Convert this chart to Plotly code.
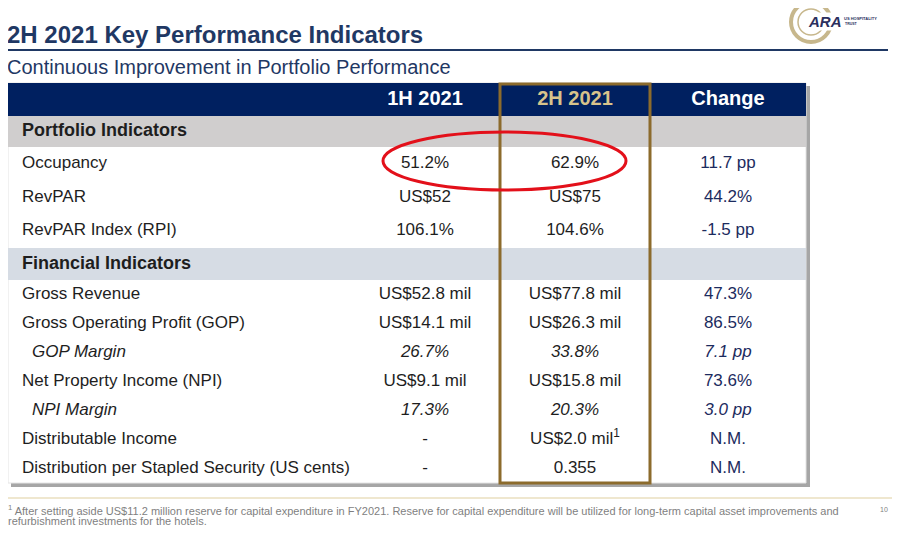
import plotly.graph_objects as go

# ---- data ----
col_headers = ["1H 2021", "2H 2021", "Change"]

portfolio_labels = ["Occupancy", "RevPAR", "RevPAR Index (RPI)"]
portfolio_1h = ["51.2%", "US$52", "106.1%"]
portfolio_2h = ["62.9%", "US$75", "104.6%"]
portfolio_chg = ["11.7 pp", "44.2%", "-1.5 pp"]

financial_labels = ["Gross Revenue", "Gross Operating Profit (GOP)", "GOP Margin",
                    "Net Property Income (NPI)", "NPI Margin", "Distributable Income",
                    "Distribution per Stapled Security (US cents)"]
financial_1h = ["US$52.8 mil", "US$14.1 mil", "26.7%", "US$9.1 mil", "17.3%", "-", "-"]
financial_2h = ["US$77.8 mil", "US$26.3 mil", "33.8%", "US$15.8 mil", "20.3%", "US$2.0 mil<sup>1</sup>", "0.355"]
financial_chg = ["47.3%", "86.5%", "7.1 pp", "73.6%", "3.0 pp", "N.M.", "N.M."]
financial_italic = [False, False, True, False, True, False, False]

sections = ["Portfolio Indicators", "Financial Indicators"]

title = "2H 2021 Key Performance Indicators"
subtitle = "Continuous Improvement in Portfolio Performance"
footnote_lines = [
    "<sup>1</sup> After setting aside US$11.2 million reserve for capital expenditure in FY2021. "
    "Reserve for capital expenditure will be utilized for long-term capital asset improvements and",
    "refurbishment investments for the hotels.",
]

# ---- layout / style ----
FONT = "Liberation Sans, Arial, sans-serif"
NAVY = "#002060"
TITLE_BLUE = "#1f3864"
GOLD_TXT = "#d8c38b"
GOLD_BOX = "#8c6b2c"
GRAY_ROW = "#d0cece"
BLUE_ROW = "#d6dce4"
TXT = "#1e1e1e"
CHG = "#1c2b5e"

# page is drawn on pixel-like axes; the browser adds an 8px body margin
OFF = 8
W, H = 900 - 2 * OFF, 534 - 2 * OFF

TABLE_L, TABLE_R, TABLE_T = 8, 806, 83
col_edges = [TABLE_L, 350, 500, 650, TABLE_R]
col_mid = [(a + b) / 2 for a, b in zip(col_edges[1:-1], col_edges[2:])]
LABEL_X, INDENT_X = 22, 32
BODY = 17


def paper_x(v):
    return (v - OFF) / W


def paper_y(v):
    return 1 - (v - OFF) / H


# row structure: header, section, 3 rows, section, 7 rows
rows = [("header", "", [f"<b>{h}</b>" for h in col_headers], False)]
rows.append(("section", sections[0], ["", "", ""], False))
for i, lab in enumerate(portfolio_labels):
    rows.append(("row", lab, [portfolio_1h[i], portfolio_2h[i], portfolio_chg[i]], False))
rows.append(("section", sections[1], ["", "", ""], False))
for i, lab in enumerate(financial_labels):
    rows.append(("row", lab, [financial_1h[i], financial_2h[i], financial_chg[i]], financial_italic[i]))

row_heights = [33, 31, 34, 33, 34, 32, 29, 29, 29, 29, 29, 29, 29]
row_top = [TABLE_T]
for h in row_heights:
    row_top.append(row_top[-1] + h)
TABLE_B = row_top[-1]
row_mid = [(row_top[i] + row_top[i + 1]) / 2 for i in range(len(rows))]

fig = go.Figure()

# label column
lab_x, lab_y, lab_t, lab_s = [], [], [], []
for (kind, lab, vals, ital), y in zip(rows, row_mid):
    if kind == "header":
        continue
    if kind == "section":
        lab_x.append(LABEL_X); lab_t.append(f"<b>{lab}</b>"); lab_s.append(18)
    else:
        lab_x.append(INDENT_X if ital else LABEL_X)
        lab_t.append(f"<i>{lab}</i>" if ital else lab)
        lab_s.append(BODY)
    lab_y.append(y)
fig.add_trace(go.Scatter(x=lab_x, y=lab_y, text=lab_t, mode="text", textposition="middle right",
                         textfont=dict(family=FONT, size=lab_s, color=TXT),
                         cliponaxis=False, hoverinfo="skip"))

# value columns
for c in range(3):
    xs, ys, ts, sz, cl = [], [], [], [], []
    for (kind, lab, vals, ital), y in zip(rows, row_mid):
        if not vals[c]:
            continue
        xs.append(col_mid[c]); ys.append(y)
        if kind == "header":
            ts.append(vals[c]); sz.append(20); cl.append(GOLD_TXT if c == 1 else "white")
        else:
            ts.append(f"<i>{vals[c]}</i>" if ital else vals[c]); sz.append(BODY)
            cl.append(CHG if c == 2 else TXT)
    fig.add_trace(go.Scatter(x=xs, y=ys, text=ts, mode="text", textposition="middle center",
                             textfont=dict(family=FONT, size=sz, color=cl),
                             cliponaxis=False, hoverinfo="skip"))

shapes = [
    # table shadow and body
    dict(type="rect", x0=TABLE_L + 3, x1=TABLE_R + 4, y0=TABLE_T + 3, y1=TABLE_B + 4,
         fillcolor="#a6a6a6", line=dict(width=0), layer="below"),
    dict(type="rect", x0=TABLE_L, x1=TABLE_R, y0=TABLE_T, y1=TABLE_B,
         fillcolor="white", line=dict(color="#e4e4e4", width=1), layer="below"),
]
sec_colors = iter([GRAY_ROW, BLUE_ROW])
for i, (kind, lab, vals, ital) in enumerate(rows):
    if kind == "row":
        continue
    fill = NAVY if kind == "header" else next(sec_colors)
    shapes.append(dict(type="rect", x0=TABLE_L, x1=TABLE_R, y0=row_top[i], y1=row_top[i + 1],
                       fillcolor=fill, line=dict(width=0), layer="below"))
shapes += [
    # 2H highlight box
    dict(type="rect", x0=col_edges[2], x1=col_edges[3], y0=TABLE_T + 1, y1=TABLE_B,
         line=dict(color=GOLD_BOX, width=3)),
    # red ellipse around occupancy
    dict(type="circle", x0=383, x1=626, y0=132, y1=190, line=dict(color="#e3101a", width=3)),
    # title rule
    dict(type="line", x0=8, x1=888, y0=50, y1=50, line=dict(color=TITLE_BLUE, width=2)),
    # footnote rule
    dict(type="line", x0=8, x1=892, y0=498, y1=498, line=dict(color="#efe7cf", width=2)),
    # logo rings
    dict(type="circle", x0=791, x1=831, y0=2, y1=42, line=dict(color="#c7b78c", width=4)),
    dict(type="circle", x0=798, x1=824, y0=9, y1=35, line=dict(color="#c7b78c", width=1.5)),
]
for s in shapes:
    s.update(xref="x", yref="y")

annotations = [
    dict(text="<b>" + title + "</b>", x=5, y=34, xanchor="left", yanchor="middle",
         font=dict(family=FONT, size=24, color=TITLE_BLUE)),
    dict(text=subtitle, x=5, y=67, xanchor="left", yanchor="middle",
         font=dict(family=FONT, size=20, color=TITLE_BLUE)),
    dict(text="10", x=884, y=509, xanchor="center", yanchor="middle",
         font=dict(family=FONT, size=7, color="#7f7f7f")),
    dict(text="<b><i>ARA</i></b>", x=825, y=22, xanchor="center", yanchor="middle",
         bgcolor="white", borderpad=0,
         font=dict(family=FONT, size=15, color="#2b2f5e")),
    dict(text="<b>US HOSPITALITY</b>", x=842, y=19, xanchor="left", yanchor="middle",
         font=dict(family=FONT, size=4, color="#2b2f5e")),
    dict(text="<b>TRUST</b>", x=843, y=24, xanchor="left", yanchor="middle",
         font=dict(family=FONT, size=3.5, color="#2b2f5e")),
]
for line, y in zip(footnote_lines, [510, 521]):
    annotations.append(dict(text=line, x=6, y=y, xanchor="left", yanchor="middle",
                            font=dict(family=FONT, size=11, color="#7f7f7f")))
for a in annotations:
    a.update(x=paper_x(a["x"]), y=paper_y(a["y"]), xref="paper", yref="paper", showarrow=False)

fig.update_layout(
    width=W, height=H,
    margin=dict(l=0, r=0, t=0, b=0),
    paper_bgcolor="white", plot_bgcolor="white",
    xaxis=dict(range=[OFF, OFF + W], visible=False, fixedrange=True),
    yaxis=dict(range=[OFF + H, OFF], visible=False, fixedrange=True),
    shapes=shapes, annotations=annotations,
    showlegend=False,
)

fig.write_html("out.html")
